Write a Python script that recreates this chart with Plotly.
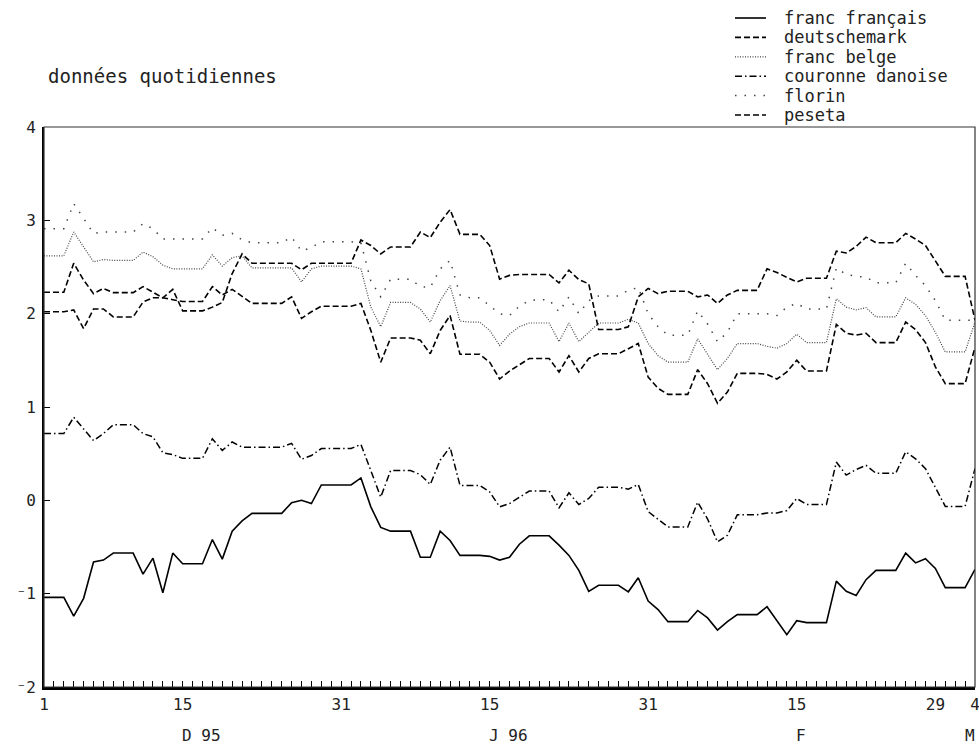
import pandas as pd
import plotly.graph_objects as go

# Daily observations, 1 Dec 1995 to 4 Mar 1996
dates = pd.date_range("1995-12-01", "1996-03-04", freq="D")

franc_francais = [
    -1.04, -1.04, -1.04, -1.24, -1.05, -0.66, -0.64, -0.565, -0.565, -0.565,
    -0.79, -0.62, -0.99, -0.565, -0.68, -0.68, -0.68, -0.42, -0.63, -0.33,
    -0.22, -0.14, -0.14, -0.14, -0.14, -0.025, 0.0, -0.035, 0.165, 0.165,
    0.165, 0.165, 0.24, -0.07, -0.29, -0.33, -0.33, -0.33, -0.61, -0.61,
    -0.33, -0.43, -0.59, -0.59, -0.59, -0.60, -0.64, -0.61, -0.47, -0.38,
    -0.38, -0.38, -0.48, -0.59, -0.75, -0.975, -0.91, -0.91, -0.91, -0.98,
    -0.83, -1.08, -1.17, -1.30, -1.30, -1.30, -1.18, -1.26, -1.39, -1.30,
    -1.225, -1.225, -1.225, -1.14, -1.29, -1.44, -1.29, -1.31, -1.31, -1.31,
    -0.865, -0.975, -1.02, -0.85, -0.75, -0.75, -0.75, -0.565, -0.67, -0.625,
    -0.73, -0.935, -0.935, -0.935, -0.74,
]

deutschemark = [
    2.23, 2.23, 2.23, 2.54, 2.36, 2.215, 2.27, 2.225, 2.225, 2.225,
    2.29, 2.23, 2.17, 2.15, 2.13, 2.13, 2.13, 2.29, 2.20, 2.26,
    2.18, 2.11, 2.11, 2.11, 2.11, 2.18, 1.95, 2.02, 2.08, 2.08,
    2.08, 2.08, 2.11, 1.82, 1.48, 1.74, 1.74, 1.74, 1.715, 1.57,
    1.82, 1.98, 1.565, 1.565, 1.565, 1.48, 1.30, 1.385, 1.45, 1.52,
    1.52, 1.52, 1.375, 1.55, 1.375, 1.52, 1.57, 1.57, 1.57, 1.625,
    1.68, 1.32, 1.20, 1.135, 1.135, 1.135, 1.40, 1.25, 1.04, 1.16,
    1.36, 1.36, 1.36, 1.35, 1.30, 1.375, 1.50, 1.385, 1.385, 1.385,
    1.885, 1.79, 1.77, 1.79, 1.69, 1.69, 1.69, 1.91, 1.83, 1.69,
    1.43, 1.25, 1.25, 1.25, 1.64,
]

franc_belge = [
    2.62, 2.62, 2.62, 2.875, 2.715, 2.555, 2.58, 2.57, 2.57, 2.57,
    2.66, 2.61, 2.52, 2.48, 2.48, 2.48, 2.48, 2.63, 2.51, 2.60,
    2.62, 2.49, 2.49, 2.49, 2.49, 2.49, 2.34, 2.48, 2.51, 2.51,
    2.51, 2.51, 2.48, 2.07, 1.86, 2.12, 2.12, 2.12, 2.05, 1.91,
    2.14, 2.30, 1.92, 1.91, 1.91, 1.82, 1.66, 1.78, 1.86, 1.90,
    1.90, 1.90, 1.70, 1.90, 1.70, 1.80, 1.90, 1.90, 1.90, 1.94,
    1.90, 1.68, 1.55, 1.48, 1.48, 1.48, 1.73, 1.57, 1.40, 1.52,
    1.68, 1.68, 1.68, 1.65, 1.63, 1.68, 1.78, 1.69, 1.69, 1.69,
    2.16, 2.07, 2.04, 2.065, 1.965, 1.965, 1.965, 2.17, 2.10, 1.98,
    1.80, 1.59, 1.59, 1.59, 1.91,
]

couronne_danoise = [
    0.715, 0.715, 0.715, 0.89, 0.77, 0.64, 0.715, 0.81, 0.81, 0.81,
    0.715, 0.68, 0.51, 0.49, 0.45, 0.45, 0.45, 0.66, 0.535, 0.625,
    0.57, 0.57, 0.57, 0.57, 0.57, 0.61, 0.44, 0.48, 0.555, 0.555,
    0.555, 0.555, 0.60, 0.32, 0.035, 0.32, 0.32, 0.32, 0.275, 0.17,
    0.43, 0.57, 0.16, 0.16, 0.16, 0.09, -0.07, -0.035, 0.035, 0.10,
    0.10, 0.10, -0.08, 0.08, -0.045, 0.02, 0.14, 0.14, 0.14, 0.12,
    0.17, -0.12, -0.20, -0.285, -0.285, -0.285, -0.02, -0.20, -0.445, -0.375,
    -0.155, -0.155, -0.155, -0.135, -0.135, -0.11, 0.02, -0.045, -0.045, -0.045,
    0.41, 0.27, 0.33, 0.375, 0.29, 0.29, 0.29, 0.52, 0.445, 0.34,
    0.14, -0.065, -0.065, -0.065, 0.34,
]

florin = [
    2.91, 2.91, 2.91, 3.18, 3.02, 2.86, 2.875, 2.875, 2.875, 2.875,
    2.965, 2.91, 2.80, 2.80, 2.80, 2.80, 2.80, 2.92, 2.84, 2.86,
    2.79, 2.76, 2.76, 2.76, 2.76, 2.82, 2.67, 2.71, 2.77, 2.77,
    2.77, 2.77, 2.76, 2.35, 2.18, 2.37, 2.37, 2.37, 2.29, 2.28,
    2.48, 2.57, 2.20, 2.17, 2.17, 2.08, 2.00, 1.98, 2.08, 2.14,
    2.15, 2.15, 2.02, 2.18, 2.00, 2.14, 2.19, 2.19, 2.19, 2.25,
    2.28, 2.00, 1.86, 1.77, 1.77, 1.77, 2.03, 1.89, 1.70, 1.80,
    2.00, 2.00, 2.00, 2.00, 1.98, 2.07, 2.11, 2.05, 2.05, 2.05,
    2.49, 2.42, 2.40, 2.39, 2.33, 2.33, 2.33, 2.54, 2.41, 2.30,
    2.14, 1.93, 1.93, 1.93, 1.93,
]

peseta = [
    2.02, 2.02, 2.02, 2.04, 1.84, 2.05, 2.05, 1.965, 1.965, 1.965,
    2.125, 2.17, 2.17, 2.26, 2.03, 2.03, 2.03, 2.07, 2.12, 2.43,
    2.64, 2.54, 2.54, 2.54, 2.54, 2.54, 2.47, 2.54, 2.54, 2.54,
    2.54, 2.54, 2.79, 2.73, 2.64, 2.715, 2.715, 2.715, 2.875, 2.815,
    2.98, 3.115, 2.85, 2.85, 2.85, 2.73, 2.37, 2.41, 2.42, 2.42,
    2.42, 2.42, 2.33, 2.465, 2.365, 2.32, 1.83, 1.83, 1.83, 1.86,
    2.18, 2.27, 2.215, 2.24, 2.24, 2.24, 2.18, 2.20, 2.11, 2.20,
    2.25, 2.25, 2.25, 2.48, 2.44, 2.39, 2.34, 2.38, 2.38, 2.38,
    2.67, 2.65, 2.72, 2.82, 2.76, 2.76, 2.76, 2.86, 2.80, 2.73,
    2.57, 2.40, 2.40, 2.40, 1.93,
]

# Axis labelling
x_label_dates = ["1995-12-01", "1995-12-15", "1995-12-31", "1996-01-15",
                 "1996-01-31", "1996-02-15", "1996-02-29", "1996-03-04"]
x_labels = ["1", "15", "31", "15", "31", "15", "29", "4"]
mid_month_dates = ["1995-12-15", "1996-01-15", "1996-02-15"]
month_end_dates = ["1995-12-31", "1996-01-31", "1996-02-29"]
month_names = ["D 95", "J 96", "F", "M"]
month_anchor_dates = ["1995-12-15", "1996-01-15", "1996-02-15", "1996-03-04"]
y_ticks = [-2, -1, 0, 1, 2, 3, 4]
y_labels = ["\u207b2", "\u207b1", "0", "1", "2", "3", "4"]

FONT = "DejaVu Sans Mono"
INK = "#222222"

# plot area in pixels
L, R, T, B = 44, 975, 127, 687
W, H = R - L, B - T


def px_x(px):
    return (px - L) / W


def px_y(py):
    return (B - py) / H


series = [
    ("franc français", franc_francais, dict(color="black", width=1.6, dash="solid")),
    ("deutschemark", deutschemark, dict(color="black", width=1.6, dash="6px,3px")),
    ("franc belge", franc_belge, dict(color="#444444", width=1.2, dash="1px,1.5px")),
    ("couronne danoise", couronne_danoise, dict(color="black", width=1.5, dash="7px,3px,1.5px,3px")),
    ("florin", florin, dict(color="#444444", width=1.5, dash="1.5px,8px")),
    ("peseta", peseta, dict(color="black", width=1.6, dash="6px,3px")),
]

fig = go.Figure()
for name, values, line in series:
    fig.add_trace(go.Scatter(x=dates, y=values, mode="lines", name=name, line=line,
                             showlegend=False))

x_range = [dates[0], dates[-1]]
date_strs = [d.strftime("%Y-%m-%d") for d in dates]
label_map = dict(zip(x_label_dates, x_labels))
tick_text = [label_map.get(d, "") for d in date_strs]

common_x = dict(type="date", range=x_range, showgrid=False, zeroline=False,
                automargin=False, fixedrange=True)

fig.update_layout(
    width=979, height=747,
    margin=dict(l=L, r=979 - R, t=T, b=747 - B, autoexpand=False),
    paper_bgcolor="white", plot_bgcolor="white",
    font=dict(family=FONT, size=16, color=INK),
    showlegend=False,
    xaxis=dict(
        **common_x,
        tickmode="array", tickvals=date_strs, ticktext=tick_text,
        ticks="inside", ticklen=6, tickwidth=1, tickcolor="black",
        showline=True, linewidth=2.5, linecolor="black",
        tickfont=dict(family=FONT, size=16, color=INK),
        ticklabelstandoff=1, ticklabeloverflow="allow",
    ),
    xaxis2=dict(
        **common_x, overlaying="x", anchor="y", side="bottom",
        tickmode="array", tickvals=mid_month_dates, ticks="inside", ticklen=10,
        tickwidth=1, tickcolor="black", showticklabels=False, showline=False,
    ),
    xaxis3=dict(
        **common_x, overlaying="x", anchor="y", side="bottom",
        tickmode="array", tickvals=month_end_dates, ticks="inside", ticklen=17,
        tickwidth=1, tickcolor="black", showticklabels=False, showline=False,
    ),
    yaxis=dict(
        range=[-2, 4], tickmode="array", tickvals=y_ticks, ticktext=y_labels,
        ticks="inside", ticklen=6, tickwidth=1, tickcolor="black",
        showline=True, linewidth=2, linecolor="black",
        showgrid=False, zeroline=False, automargin=False, fixedrange=True,
        tickfont=dict(family=FONT, size=16, color=INK),
        ticklabelstandoff=3,
    ),
)

# thin frame on the top and right sides
fig.add_shape(type="rect", xref="paper", yref="paper", x0=0, x1=1, y0=0, y1=1,
              line=dict(color="#333333", width=1.2), layer="above")

# key: line sample followed by the currency name
for i, (name, values, line) in enumerate(series):
    row_y = px_y(18 + 19.4 * i)
    fig.add_shape(type="line", xref="paper", yref="paper",
                  x0=px_x(735), x1=px_x(766), y0=row_y, y1=row_y, line=line)
    fig.add_annotation(text=name, xref="paper", yref="paper",
                       x=px_x(782), y=row_y, xanchor="left", yanchor="middle",
                       showarrow=False, font=dict(family=FONT, size=17, color=INK))

fig.add_annotation(text="données quotidiennes", xref="paper", yref="paper",
                   x=px_x(46), y=px_y(76), xanchor="left", yanchor="middle",
                   showarrow=False, font=dict(family=FONT, size=19, color=INK))

for name, anchor in zip(month_names, month_anchor_dates):
    last = anchor == month_anchor_dates[-1]
    fig.add_annotation(text=name, x=anchor, xref="x", yref="paper",
                       y=px_y(735), yanchor="middle",
                       xanchor="right" if last else "left",
                       xshift=2 if last else -3,
                       showarrow=False, font=dict(family=FONT, size=16, color=INK))

fig.write_html("out.html")
